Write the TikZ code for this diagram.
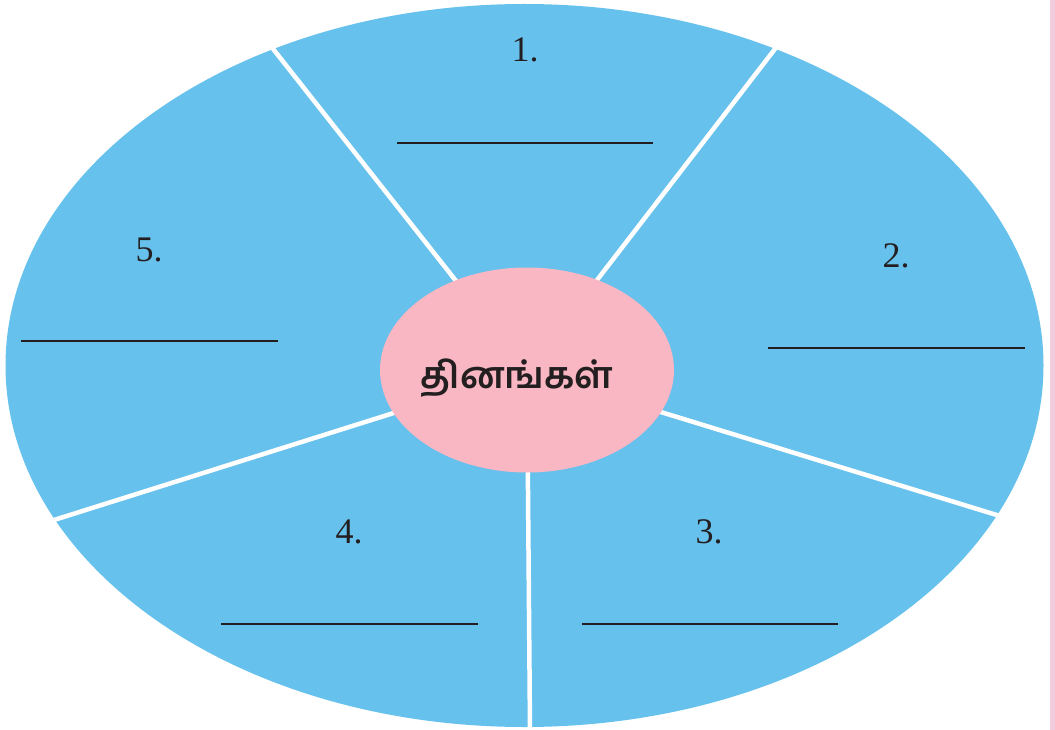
\documentclass[tikz,border=0pt]{standalone}
\usepackage{fontspec}
\setmainfont{Liberation Serif}
\newfontfamily\tamilfont[Script=Tamil]{Hind Madurai}
\usetikzlibrary{shapes.geometric}
\definecolor{skyblue}{RGB}{103,193,237}
\definecolor{hubpink}{RGB}{248,183,194}
\definecolor{stripepink}{RGB}{242,203,221}
\definecolor{ink}{RGB}{35,31,32}
\tikzset{
  outerring/.style={ellipse, fill=skyblue, draw=none, inner sep=0pt},
  hubstyle/.style={ellipse, fill=hubpink, draw=none, inner sep=0pt},
  sepline/.style={white, line width=4.5pt},
  blankline/.style={ink, line width=1.5pt},
  numlabel/.style={text=ink, font=\fontsize{36}{40}\selectfont, inner sep=0pt},
  hubtext/.style={text=ink, font=\tamilfont\bfseries\fontsize{37}{44}\selectfont, inner sep=0pt}
}
\begin{document}
\begin{tikzpicture}[x=1pt,y=-1pt]
\useasboundingbox (0,0) rectangle (1055,730);
\fill[stripepink] (1050,0) rectangle (1055,730);
\node[outerring, minimum width=1038pt, minimum height=723pt] (outer) at (524.5,365.5) {};
\coordinate (c) at (527,371);
\coordinate (e1) at (270,45);
\coordinate (e2) at (778,45);
\coordinate (e3) at (1000,516);
\coordinate (e4) at (530,730);
\coordinate (e5) at (54,520);
\foreach \e in {e1,e2,e3,e4,e5} \draw[sepline] (c) -- (\e);
\node[hubstyle, minimum width=294pt, minimum height=205pt] (hub) at (527,370) {};
\node[hubtext] (title) at (517,378) {தினங்கள்};
\node[numlabel] (n1) at (525,50) {1.};
\node[numlabel] (n2) at (896,256) {2.};
\node[numlabel] (n3) at (709,532) {3.};
\node[numlabel] (n4) at (349,532) {4.};
\node[numlabel] (n5) at (149,250) {5.};
\coordinate (a1) at (397,143); \coordinate (b1) at (653,143);
\coordinate (a2) at (768,348); \coordinate (b2) at (1025,348);
\coordinate (a3) at (582,624); \coordinate (b3) at (838,624);
\coordinate (a4) at (221,624); \coordinate (b4) at (478,624);
\coordinate (a5) at (21,341);  \coordinate (b5) at (278,341);
\foreach \i in {1,...,5} \draw[blankline] (a\i) -- (b\i);
\end{tikzpicture}
\end{document}
